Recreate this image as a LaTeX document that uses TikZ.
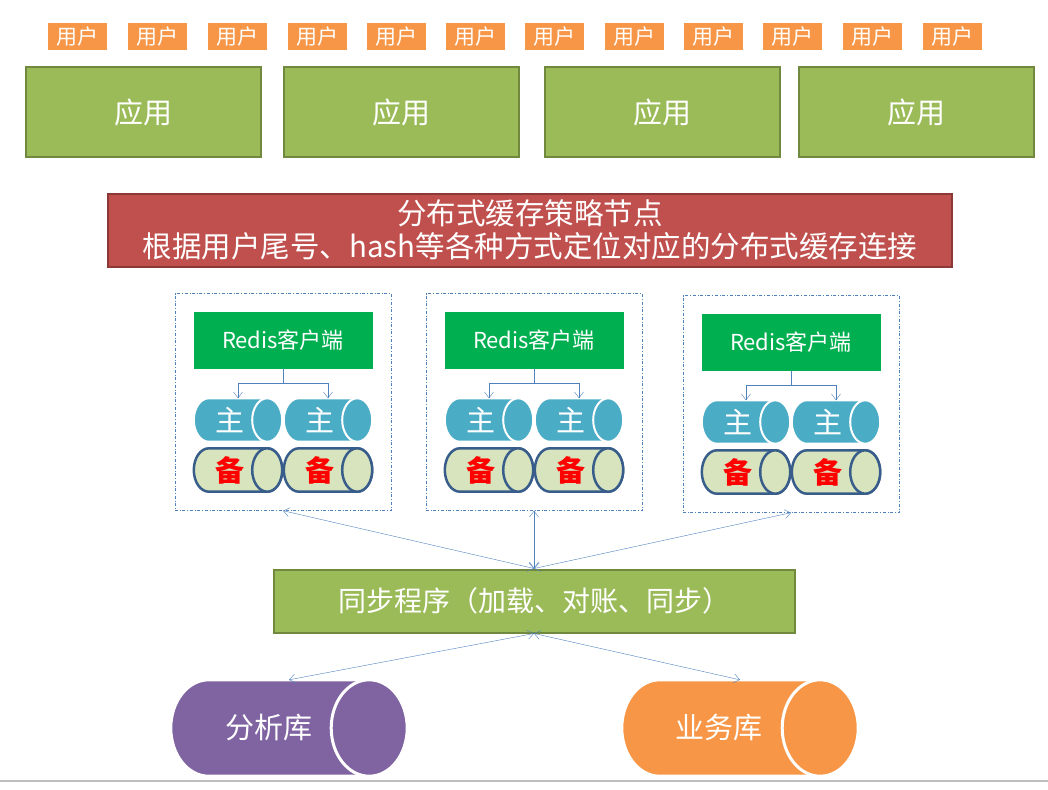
\documentclass[tikz,border=0pt]{standalone}
\usepackage{fontspec}
\setmainfont{Noto Sans CJK SC}
\usetikzlibrary{shadows,arrows.meta,backgrounds,calc}
\definecolor{userOrange}{HTML}{F79646}
\definecolor{appGreen}{HTML}{9BBB59}
\definecolor{appEdge}{HTML}{71893F}
\definecolor{stratRed}{HTML}{C0504D}
\definecolor{stratEdge}{HTML}{8C3836}
\definecolor{redisGreen}{HTML}{00B050}
\definecolor{mainBlue}{HTML}{4BACC6}
\definecolor{bakFill}{HTML}{D7E4BD}
\definecolor{bakEdge}{HTML}{385D8A}
\definecolor{lineBlue}{HTML}{4F81BD}
\definecolor{anaPurple}{HTML}{8064A2}
\newcommand\drawbarrel[3]{% node, end radius, style
  \begin{scope}[on background layer]
  \draw[#3] let \p1=(#1.north west), \p2=(#1.south east), \n1={(\y1-\y2)/2} in
    (\x1+#2pt,\y1) -- (\x2-#2pt,\y1) arc[start angle=90,end angle=-90,x radius=#2pt,y radius=\n1]
    -- (\x1+#2pt,\y2) arc[start angle=270,end angle=90,x radius=#2pt,y radius=\n1] -- cycle;
  \draw[#3] let \p1=(#1.north west), \p2=(#1.south east), \n1={(\y1-\y2)/2} in
    (\x2-#2pt,\y2+\n1) ellipse[x radius=#2pt,y radius=\n1];
  \end{scope}}
\tikzset{
  user/.style={fill=userOrange,text=white,minimum width=63pt,minimum height=31pt,inner sep=0pt,font=\fontsize{21}{21}\selectfont,
    draw=white,line width=4pt,drop shadow={shadow xshift=1pt,shadow yshift=-2pt,opacity=0.35}},
  app/.style={fill=appGreen,draw=appEdge,line width=2pt,text=white,minimum width=235pt,minimum height=90pt,font=\fontsize{29}{29}\selectfont},
  group/.style={draw=lineBlue,dash dot,thin,minimum width=216pt,minimum height=217pt},
  client/.style={fill=redisGreen,text=white,minimum width=179pt,minimum height=57pt,font=\fontsize{22}{22}\selectfont},
  barrel/.style={minimum width=88pt,minimum height=43pt,inner sep=0pt,font=\fontsize{29}{29}\selectfont},
  master/.style={barrel,text=white},
  backup/.style={barrel,text=red,font=\fontsize{29}{29}\selectfont\bfseries},
  store/.style={minimum width=236pt,minimum height=96pt,inner sep=0pt,text=white,font=\fontsize{29}{29}\selectfont},
  link/.style={draw=lineBlue,thin,{Straight Barb[length=6pt,width=9pt]}-{Straight Barb[length=6pt,width=9pt]}},
  tick/.style={draw=lineBlue,thin,-{Straight Barb[length=6pt,width=9pt]}}
}
\begin{document}
\begin{tikzpicture}[x=1pt,y=-1pt]
\useasboundingbox (0,0) rectangle (1048,789);
\draw[gray!50,line width=1.5pt] (0,781) -- (1048,781);
% users
\foreach \ux [count=\i] in {77,157,237,317,396,475,554,634,713,792,872,952}
  \node[user] (u\i) at (\ux,37) {用户};
% applications
\foreach \ax [count=\i] in {143,401,662,916}
  \node[app] (app\i) at (\ax,112) {应用};
% strategy
\node[fill=stratRed,draw=stratEdge,line width=2pt,text=white,minimum width=844pt,minimum height=73pt,align=center,
  font=\fontsize{29.5}{33}\selectfont] (strat) at (530,230) {分布式缓存策略节点\\根据用户尾号、hash等各种方式定位对应的分布式缓存连接};
% redis groups
\foreach \gx/\gy [count=\i] in {283/402,534/402,791/404}{
  \node[group] (g\i) at (\gx,\gy) {};
  \node[client] (c\i) at (\gx,\gy-62) {Redis客户端};
  \foreach \s/\dx in {a/-45,b/45}{
    \node[master] (m\i\s) at (\gx+\dx,\gy+18) {主\rule{16pt}{0pt}};
    \drawbarrel{m\i\s}{15}{fill=mainBlue,draw=white,line width=2pt}
    \node[backup] (b\i\s) at (\gx+\dx,\gy+68) {备\rule{16pt}{0pt}};
    \drawbarrel{b\i\s}{15}{fill=bakFill,draw=bakEdge,line width=2.5pt}
  }
  \coordinate (k\i) at (\gx,\gy-19);
  \draw[lineBlue,thin] (c\i.south) -- (k\i);
  \draw[tick] (k\i) -| (m\i a.north);
  \draw[tick] (k\i) -| (m\i b.north);
}
% sync
\node[fill=appGreen,draw=appEdge,line width=2pt,text=white,minimum width=521pt,minimum height=63pt,
  font=\fontsize{28}{28}\selectfont] (sync) at (534,601) {同步程序（加载、对账、同步）};
\draw[link] (sync.north) -- (g1.south);
\draw[link] (sync.north) -- (g2.south);
\draw[link] (sync.north) -- (g3.south);
% stores
\node[store] (ana) at (289,728) {分析库\rule{40pt}{0pt}};
\drawbarrel{ana}{38}{fill=anaPurple,draw=white,line width=3pt}
\node[store] (biz) at (740,728) {业务库\rule{42pt}{0pt}};
\drawbarrel{biz}{38}{fill=userOrange,draw=white,line width=3pt}
\draw[link] (sync.south) -- (ana.north);
\draw[link] (sync.south) -- (biz.north);
\end{tikzpicture}
\end{document}
